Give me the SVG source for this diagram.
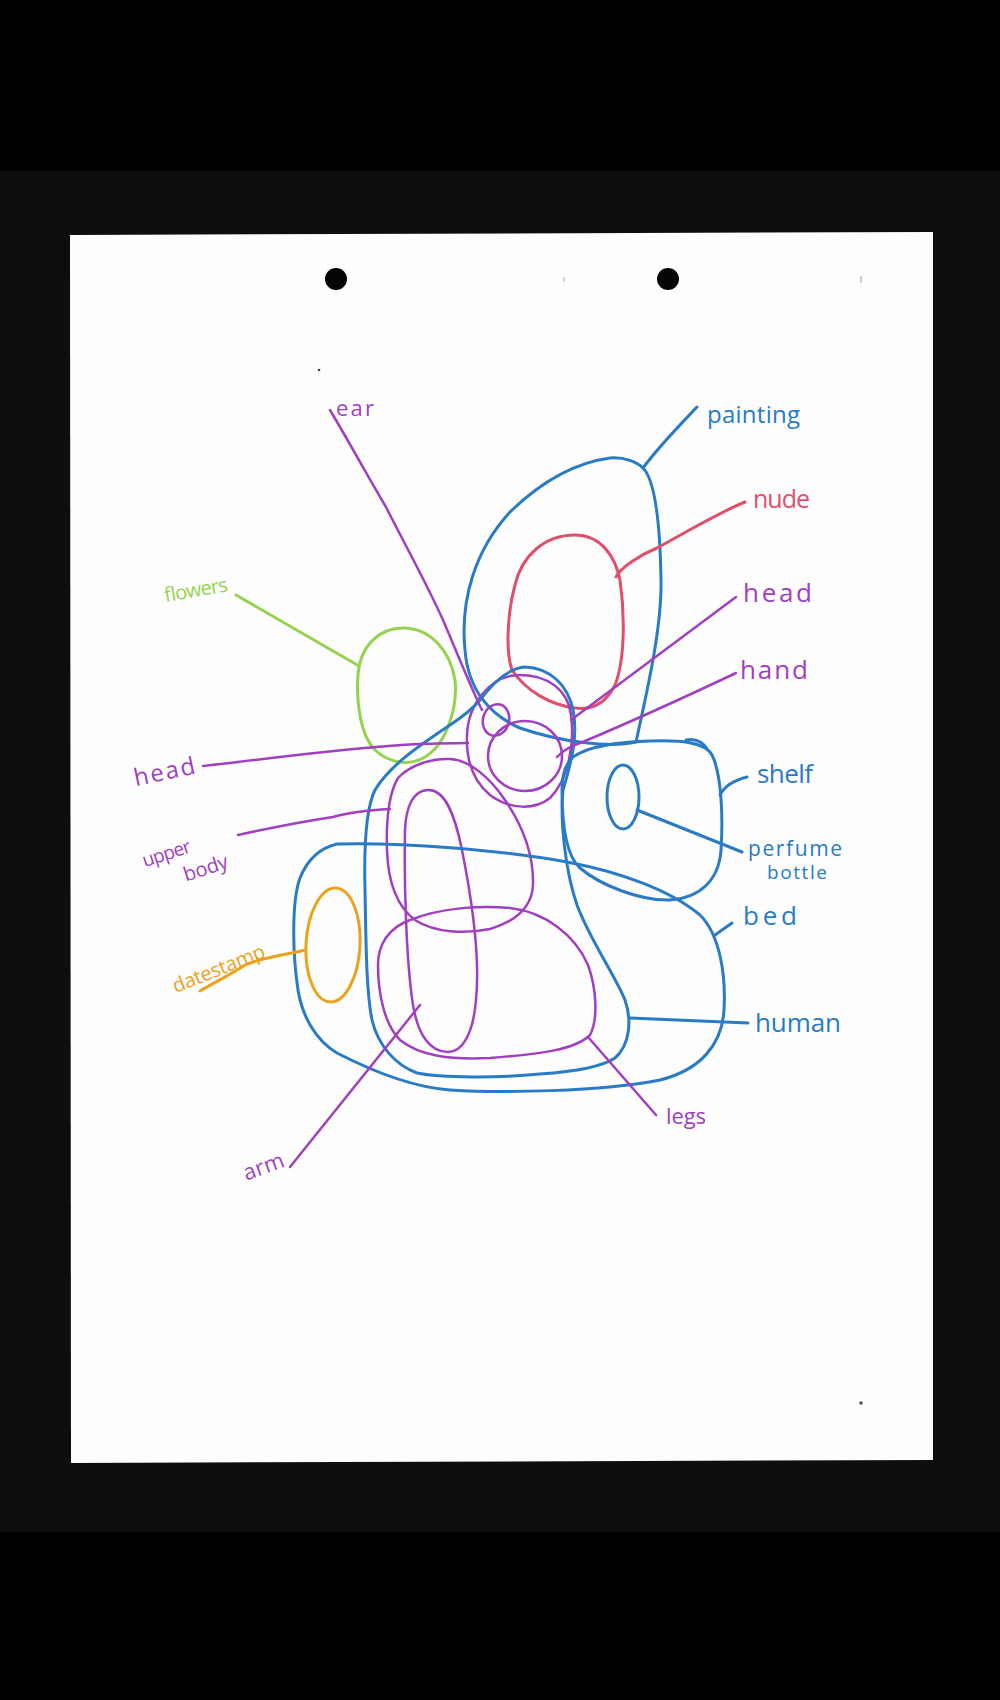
<svg xmlns="http://www.w3.org/2000/svg" width="1000" height="1700" viewBox="0 0 1000 1700">
<style>
.b{fill:none;stroke:#2a7bc5;stroke-width:3;stroke-linecap:round;stroke-linejoin:round}
.p{fill:none;stroke:#a03fc0;stroke-width:2.5;stroke-linecap:round;stroke-linejoin:round}
.r{fill:none;stroke:#e0506c;stroke-width:3;stroke-linecap:round}
.g{fill:none;stroke:#95d24e;stroke-width:3;stroke-linecap:round}
.o{fill:none;stroke:#eba21c;stroke-width:3;stroke-linecap:round}
text{font-family:"Open Sans","Liberation Sans",sans-serif;font-size:26px}
.tb{fill:#2a7bc5}.tp{fill:#a03fc0}.tr{fill:#e0506c}.tg{fill:#95d24e}.to{fill:#eba21c}
</style>
<rect x="0" y="0" width="1000" height="1700" fill="#000"/>
<rect x="0" y="171" width="1000" height="1361" fill="#0e0e0e"/>
<path d="M70,235 L933,232 L933,1460 L71,1463 Z" fill="#fdfdfd"/>
<circle cx="336" cy="279" r="11" fill="#050505"/>
<circle cx="668" cy="279" r="11" fill="#050505"/>
<circle cx="319" cy="370" r="1.3" fill="#444"/>
<rect x="563.5" y="277" width="1" height="5" fill="#aaa"/>
<rect x="860.5" y="276" width="1.2" height="7" fill="#aaa"/>
<circle cx="861" cy="1403" r="1.8" fill="#555"/>

<g id="painting"><path class="b" d="M643,468 C655,480 660,520 661,580 C662,630 645,700 636,742 C610,748 560,742 520,728 C490,715 468,690 465,650 C460,600 475,550 510,512 C545,478 580,462 610,458 C625,457 637,462 643,468 Z"/><text class="tb" x="707" y="423" textLength="93" style="font-size:24px">painting</text></g>
<g id="nude"><path class="r" d="M575,535 C600,535 615,555 620,580 C625,615 625,660 615,685 C605,705 590,710 575,708 C550,705 525,690 512,670 C505,650 508,610 515,585 C522,555 545,535 575,535 Z"/><text class="tr" x="753" y="508" textLength="57" style="font-size:25px">nude</text></g>
<g id="flowers"><path class="g" d="M403,628 C430,628 450,650 455,680 C458,710 445,745 425,757 C410,766 390,764 375,750 C360,735 356,700 358,675 C360,645 380,628 403,628 Z"/><text class="tg" x="163" y="597" textLength="64" transform="rotate(-10 194 590)" style="font-size:20px">flowers</text></g>
<g id="ear"><ellipse class="p" cx="496" cy="720" rx="13" ry="16" transform="rotate(15 496 720)"/><text class="tp" x="336" y="416" textLength="38" style="font-size:22px">ear</text></g>
<g id="head"><path class="p" d="M520,675 C548,675 568,690 571,715 C575,745 568,780 550,798 C535,810 510,810 490,795 C472,780 466,760 467,735 C468,705 490,675 520,675 Z"/><text class="tp" x="743" y="602" textLength="69">head</text><text class="tp" x="133" y="780" textLength="62" transform="rotate(-12 164 770)" style="font-size:24px">head</text></g>
<g id="hand"><ellipse class="p" cx="525" cy="756" rx="37" ry="35"/><text class="tp" x="740" y="679" textLength="68">hand</text></g>
<g id="human"><path class="b" d="M480,700 C495,680 510,668 525,667 C550,668 568,685 573,710 C578,735 572,760 563,790 C560,820 565,870 577,905 C590,940 615,975 625,1000 C632,1020 630,1045 615,1058 C600,1068 570,1072 540,1074 C500,1078 440,1078 417,1073 C395,1065 378,1045 372,1020 C366,990 366,940 365,890 C364,850 365,810 375,790 C390,765 420,745 453,723 C465,715 473,708 480,700 Z"/><text class="tb" x="755" y="1032" textLength="86">human</text></g>
<g id="upper-body"><path class="p" d="M450,759 C470,760 490,778 505,800 C520,822 534,850 533,885 C532,905 520,920 490,929 C465,934 435,933 415,920 C395,905 388,880 387,850 C386,820 388,795 398,778 C410,765 432,758 450,759 Z"/><text class="tp" x="141" y="860" textLength="50" transform="rotate(-18 166 852)" style="font-size:19px">upper</text><text class="tp" x="182" y="875" textLength="46" transform="rotate(-18 205 866)" style="font-size:20px">body</text></g>
<g id="arm"><path class="p" d="M427,790 C445,788 455,815 462,850 C472,900 480,960 476,1000 C473,1035 462,1052 448,1052 C430,1052 418,1035 413,1005 C406,960 404,880 405,830 C406,805 414,791 427,790 Z"/><text class="tp" x="242" y="1174" textLength="42" transform="rotate(-20 263 1165)" style="font-size:22px">arm</text></g>
<g id="legs"><path class="p" d="M410,920 C440,908 480,905 510,908 C545,912 575,935 588,965 C597,990 598,1020 590,1035 C575,1050 540,1054 490,1058 C450,1060 420,1056 400,1040 C385,1025 378,995 378,965 C378,945 388,928 410,920 Z"/><text class="tp" x="666" y="1124" textLength="40" style="font-size:22px">legs</text></g>
<g id="shelf"><path class="b" d="M573,757 C590,745 620,742 650,741 C680,740 705,742 712,755 C722,775 723,820 721,850 C719,880 700,898 670,900 C640,901 600,885 580,868 C565,855 562,820 562,790 C562,775 565,764 573,757 Z"/><path class="b" d="M686,740 C695,738 703,742 707,749"/><text class="tb" x="757" y="783" textLength="56">shelf</text></g>
<g id="perfume-bottle"><ellipse class="b" cx="623" cy="797" rx="16" ry="32"/><text class="tb" x="748" y="856" textLength="94" style="font-size:21px">perfume</text><text class="tb" x="767" y="879" textLength="60" style="font-size:19px">bottle</text></g>
<g id="bed"><path class="b" d="M337,844 C400,842 500,850 567,862 C620,872 670,890 700,915 C720,935 726,975 724,1010 C722,1045 700,1070 660,1080 C600,1092 500,1093 450,1090 C410,1087 370,1070 337,1053 C315,1040 302,1015 298,990 C292,950 292,900 300,878 C308,858 320,848 337,844 Z"/><text class="tb" x="743" y="925" textLength="54">bed</text></g>
<g id="datestamp"><ellipse class="o" cx="333" cy="945" rx="27" ry="57" transform="rotate(3 333 945)"/><text class="to" x="167" y="976" textLength="98" transform="rotate(-22 216 962)" style="font-size:20px">datestamp</text></g>

<g id="connectors">
<path class="b" d="M643,468 C660,445 680,425 697,407"/>
<path class="r" d="M616,577 C620,568 640,555 657,548 C690,530 720,512 745,502"/>
<path class="p" d="M571,720 L736,597"/>
<path class="p" d="M557,757 C565,748 575,745 585,741 C640,718 700,690 736,673"/>
<path class="b" d="M720,795 C725,785 735,780 747,777"/>
<path class="b" d="M637,810 L742,852"/>
<path class="b" d="M715,935 L732,923"/>
<path class="b" d="M630,1018 L748,1023"/>
<path class="p" d="M588,1037 L656,1115"/>
<path class="p" d="M420,1005 L290,1167"/>
<path class="o" d="M305,950 C285,955 260,958 245,965 C230,975 215,982 200,991"/>
<path class="p" d="M390,809 C370,810 350,812 333,817 C300,822 270,828 238,835"/>
<path class="p" d="M468,743 C450,743 430,744 420,744 C340,748 260,760 203,766"/>
<path class="g" d="M359,666 L236,595"/>
<path class="p" d="M330,410 C345,435 370,480 386,507 C405,545 425,580 443,620 C458,655 472,690 482,710"/>
</g>
</svg>
